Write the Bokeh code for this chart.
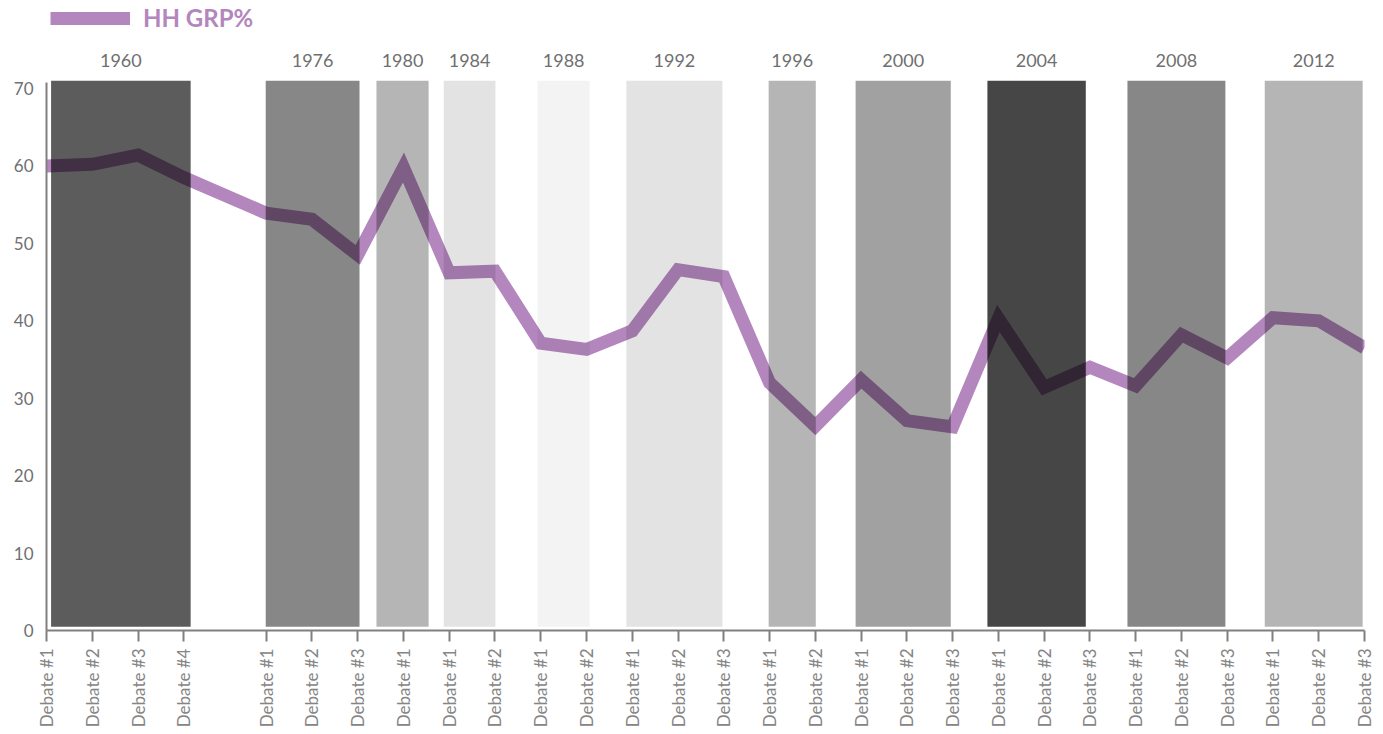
import math
from bokeh.plotting import figure
from bokeh.models import ColumnDataSource, FixedTicker, Range1d, Legend, LegendItem
from bokeh.core.properties import value
from bokeh.embed import file_html
from bokeh.resources import INLINE

# ---- data ----
years = ["1960", "1976", "1980", "1984", "1988", "1992", "1996", "2000", "2004", "2008", "2012"]
debates_per_year = [4, 3, 1, 2, 2, 3, 2, 3, 3, 3, 3]
hh_grp = [60.0, 60.2, 61.4, 58.5,
          53.9, 53.1, 48.5,
          59.8,
          46.2, 46.4,
          37.1, 36.3,
          38.7, 46.6, 45.7,
          32.0, 26.4,
          32.4, 27.1, 26.3,
          40.3, 31.4, 34.0,
          31.6, 38.2, 35.2,
          40.4, 40.0, 36.5]
# shading of each election year's band (opacity of black overlay)
band_shade = [0.64, 0.47, 0.29, 0.11, 0.047, 0.11, 0.29, 0.37, 0.725, 0.47, 0.29]
# band extents, in debate-slot units (10 per debate)
band_left = [1.0, 47.9, 72.1, 86.8, 107.3, 126.7, 157.8, 176.8, 205.6, 236.2, 266.2]
band_right = [31.5, 68.4, 83.5, 98.1, 118.7, 147.7, 168.1, 197.6, 227.1, 257.6, 287.6]
y_ticks = [0, 10, 20, 30, 40, 50, 60, 70]

# ---- positions along the x axis ----
STEP = 10
GAP_AFTER_1960 = 8
x_pos, x_labels = [], []
pos = 0
for yi, n in enumerate(debates_per_year):
    for k in range(n):
        x_pos.append(pos)
        x_labels.append(f"Debate #{k + 1}")
        pos += STEP
    if yi == 0:
        pos += GAP_AFTER_1960
x_end = x_pos[-1]

PURPLE = "#b386bd"
FONT = "Lato"

p = figure(width=1383, height=734, x_range=Range1d(0, x_end), y_range=Range1d(0, 81.36),
           output_backend="svg", toolbar_location=None,
           min_border_left=46, min_border_right=19, min_border_top=0, min_border_bottom=104)
p.outline_line_color = None
p.xgrid.visible = False
p.ygrid.visible = False

line_r = p.line(x_pos, hh_grp, line_color=PURPLE, line_width=13,
                line_join="miter", line_cap="butt")

band_src = ColumnDataSource(dict(left=band_left, right=band_right, alpha=band_shade,
                                 cx=[(a + b) / 2 for a, b in zip(band_left, band_right)],
                                 year=years))
p.quad(left="left", right="right", bottom=0.5, top=71.0, source=band_src,
       fill_color="black", fill_alpha="alpha", line_color=None)

p.text(x="cx", y=73.6, text="year", source=band_src, text_font=value(FONT),
       text_font_size="18px", text_color="#6f6f6f", text_align="center",
       text_baseline="middle")

legend = Legend(items=[LegendItem(label="HH GRP%", renderers=[line_r])],
                location=(4, 598), orientation="horizontal",
                glyph_width=80, glyph_height=14, label_standoff=13,
                padding=0, margin=0, border_line_color=None, background_fill_alpha=0,
                label_text_font=FONT, label_text_font_style="bold",
                label_text_font_size="24px", label_text_color=PURPLE)
p.add_layout(legend)

overrides = {}
for xv, lab in zip(x_pos, x_labels):
    overrides[xv] = lab
    overrides[str(xv)] = lab

xa = p.xaxis[0]
xa.ticker = FixedTicker(ticks=x_pos)
xa.major_label_overrides = overrides
xa.major_label_orientation = math.pi / 2
xa.major_label_text_font = FONT
xa.major_label_text_font_size = "17px"
xa.major_label_text_color = "#858585"
xa.major_label_standoff = 7
xa.major_tick_in = 0
xa.major_tick_out = 11
xa.major_tick_line_width = 2
xa.major_tick_line_color = "#808080"
xa.minor_tick_line_color = None
xa.axis_line_width = 2
xa.axis_line_color = "#808080"
xa.bounds = (0, x_end)

ya = p.yaxis[0]
ya.ticker = FixedTicker(ticks=y_ticks)
ya.major_label_text_font = FONT
ya.major_label_text_font_size = "17px"
ya.major_label_text_color = "#707070"
ya.major_tick_in = 0
ya.major_tick_out = 0
ya.major_tick_line_color = None
ya.minor_tick_line_color = None
ya.major_label_standoff = 13
ya.axis_line_width = 2
ya.axis_line_color = "#808080"
ya.bounds = (0, 70.8)

open("out.html", "w").write(file_html(p, INLINE))
